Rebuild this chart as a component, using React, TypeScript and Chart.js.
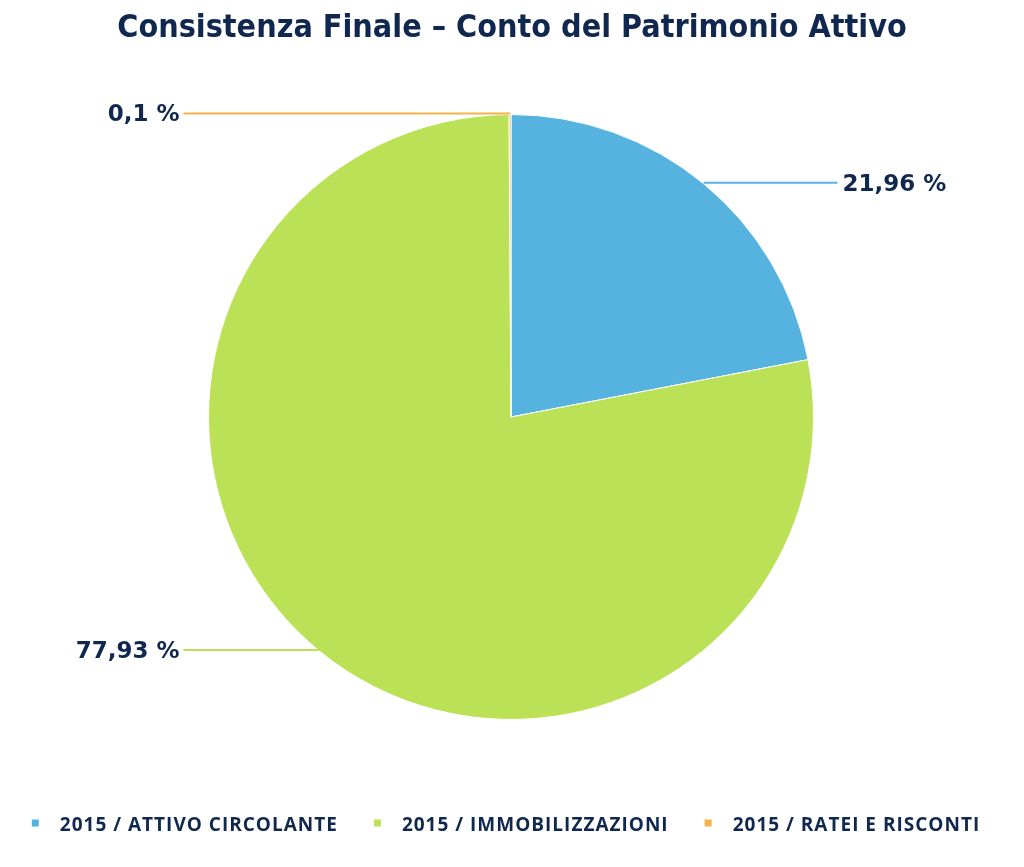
import React, { useEffect, useRef } from "react";
import { Chart, registerables } from "chart.js";

Chart.register(...registerables);

const TITLE = "Consistenza Finale – Conto del Patrimonio Attivo";
const categories = ["2015 / ATTIVO CIRCOLANTE", "2015 / IMMOBILIZZAZIONI", "2015 / RATEI E RISCONTI"];
const shares = [21.96, 77.93, 0.1];
const valueLabels = ["21,96 %", "77,93 %", "0,1 %"];
const colors = ["#56B3E0", "#BBE257", "#F4B24A"];
const TEXT = "#10284F";

const W = 1008;
const H = 851;

const overlay = {
  id: "overlay",
  afterDraw(chart: any) {
    const ctx = chart.ctx as CanvasRenderingContext2D;
    const meta = chart.getDatasetMeta(0);
    ctx.save();
    // title
    ctx.fillStyle = TEXT;
    ctx.font = "bold 32px 'DejaVu Sans Condensed'";
    ctx.textAlign = "center";
    ctx.textBaseline = "middle";
    ctx.fillText(TITLE, 504, 21);

    // leader lines + labels
    meta.data.forEach((arc: any, i: number) => {
      const { x, y, startAngle, endAngle, outerRadius } = arc.getProps(
        ["x", "y", "startAngle", "endAngle", "outerRadius"],
        true
      );
      const mid = (startAngle + endAngle) / 2;
      const px = x + Math.cos(mid) * outerRadius;
      const py = y + Math.sin(mid) * outerRadius - 1;
      const right = Math.cos(mid) >= 0 && Math.abs(Math.cos(mid)) > 0.05;
      const ex = right ? x + outerRadius + 24 : x - outerRadius - 25;
      ctx.strokeStyle = colors[i];
      ctx.lineWidth = 2;
      ctx.beginPath();
      ctx.moveTo(px, py);
      ctx.lineTo(ex, py);
      ctx.stroke();
      ctx.fillStyle = TEXT;
      ctx.font = "bold 23px 'DejaVu Sans'";
      ctx.textBaseline = "middle";
      ctx.textAlign = right ? "left" : "right";
      ctx.fillText(valueLabels[i], right ? ex + 5 : ex - 4, py + 2);
    });

    // legend
    ctx.font = "bold 19px 'Open Sans'";
    (ctx as any).letterSpacing = "1px";
    const sq = 7;
    const gapBox = 21;
    const gapItem = 36;
    const widths = categories.map((c) => ctx.measureText(c).width);
    const total = widths.reduce((a, b) => a + b + sq + gapBox, 0) + gapItem * (categories.length - 1);
    let lx = 498 - total / 2;
    const ly = 818;
    categories.forEach((c, i) => {
      ctx.fillStyle = colors[i];
      ctx.fillRect(lx, ly - sq / 2 - 3, sq, sq);
      ctx.fillStyle = TEXT;
      ctx.textAlign = "left";
      ctx.textBaseline = "middle";
      ctx.fillText(c, lx + sq + gapBox, ly);
      lx += sq + gapBox + widths[i] + gapItem;
    });
    (ctx as any).letterSpacing = "0px";
    ctx.restore();
  },
};

export default function App() {
  const ref = useRef<HTMLCanvasElement>(null);
  useEffect(() => {
    if (!ref.current) return;
    const chart = new Chart(ref.current, {
      type: "pie",
      data: {
        labels: categories,
        datasets: [
          {
            data: shares,
            backgroundColor: colors,
            borderColor: "#ffffff",
            borderWidth: 1,
          },
        ],
      },
      options: {
        responsive: false,
        animation: false,
        layout: { padding: { left: 200, right: 202, top: 106, bottom: 139 } },
        plugins: {
          legend: { display: false },
          title: { display: false },
          tooltip: { enabled: false },
        },
      },
      plugins: [overlay],
    });
    return () => chart.destroy();
  }, []);
  return <canvas ref={ref} width={W} height={H} style={{ display: "block" }} />;
}
